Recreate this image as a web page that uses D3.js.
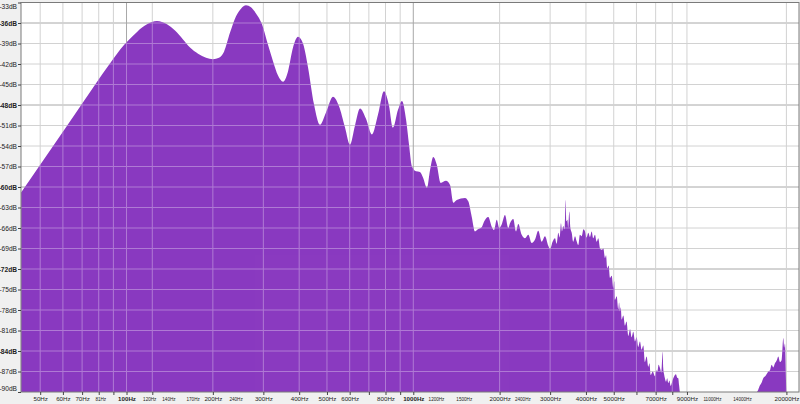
<!DOCTYPE html>
<html><head><meta charset="utf-8">
<script src="https://cdn.jsdelivr.net/npm/d3@7"></script>
<style>
html,body{margin:0;padding:0;background:#f0f0f0;}
svg{display:block;}
text{font-family:"Liberation Sans",Arial,sans-serif;}
</style></head><body>
<svg id="chart" width="800" height="404"></svg>
<script>
// ---- data: frequency (Hz) and level (dB) ----
const freqs = [42.9,63.5,89.7,94.9,101.2,108.8,117.9,127.7,138.4,147.6,157.4,166.5,177.6,189.4,200.2,210.1,218.8,229.6,240.9,250.7,
261.0,271.7,282.8,296.8,311.4,324.2,337.5,351.4,365.7,380.7,396.3,412.5,429.5,450.6,472.8,496.2,524.8,550.7,578.0,601.6,
626.3,652.0,684.1,717.8,753.3,790.3,822.8,849.6,884.5,913.3,943.2,966.3,989.7,1022,1055,1081,1116,1144,1174,1207,
1246,1300,1343,1379,1417,1515,1555,1598,1641,1681,1732,1764,1793,1826,1877,1912,1954,1995,2033,2088,
2144,2174,2232,2281,2323,2388,2452,2518,2587,2657,2728,2804,2879,2956,2997,3060,3120,3160,3204,3240,
3273,3300,3334,3370,3400,3420,3444,3470,3500,3530,3568,3610,3664,3710,3762,3810,3867,3920,3970,4020,
4076,4130,4188,4240,4300,4360,4416,4480,4538,4600,4661,4700,4747,4800,4852,4920,4982,5020,5050,5120,
5185,5220,5256,5290,5328,5400,5472,5540,5619,5700,5774,5850,5929,6010,6088,6170,6257,6340,6425,6510,
6598,6660,6727,6840,6963,7030,7093,7170,7248,7330,7407,7440,7484,7540,7605,7680,7746,7820,7898,7980,
8065,8150,8240,8320,8395,8450,8510,15760,16180,16400,16610,16950,17290,17530,17770,18000,18250,18500,18740,19000,
19250,19510,19640,19770,20010,22130];
const levels = [-60.8,-50.4,-41.3,-39.9,-38.6,-37.3,-36.2,-35.7,-36.2,-37.1,-38.4,-39.6,-40.5,-41.1,-41.3,-41.1,-40.2,-37.4,-35.0,-33.9,
-33.4,-33.7,-34.6,-36.2,-39.2,-41.6,-43.7,-44.6,-43.1,-39.6,-38.0,-39.0,-42.5,-47.9,-50.9,-49.1,-46.8,-48.2,-51.3,-53.8,
-51.0,-48.5,-50.0,-52.3,-49.4,-46.0,-48.1,-51.3,-48.7,-47.4,-50.1,-53.8,-57.0,-57.7,-57.8,-58.6,-60.1,-57.5,-55.6,-56.7,
-59.4,-59.1,-59.7,-62.3,-61.9,-61.6,-62.1,-64.3,-66.5,-66.2,-65.9,-65.1,-64.6,-64.4,-65.8,-66.3,-64.8,-66.0,-65.5,-64.1,
-66.0,-65.3,-64.7,-66.5,-65.4,-67.0,-67.5,-67.0,-68.2,-67.7,-66.4,-68.0,-67.2,-68.6,-69.1,-68.0,-67.5,-68.3,-66.7,-67.4,
-65.3,-66.5,-65.7,-66.2,-61.9,-65.0,-64.8,-66.0,-63.6,-66.0,-66.7,-68.0,-67.2,-67.9,-68.5,-67.0,-67.2,-66.2,-66.5,-67.4,
-66.7,-67.3,-66.5,-67.5,-67.0,-68.0,-67.5,-69.0,-69.2,-69.0,-70.4,-70.0,-71.9,-71.5,-73.3,-73.0,-74.8,-73.8,-76.5,-76.0,
-77.9,-76.9,-78.2,-77.6,-79.4,-78.8,-80.3,-79.7,-81.8,-80.8,-82.0,-81.2,-82.6,-82.0,-83.4,-82.6,-83.8,-83.2,-85.6,-84.8,
-86.3,-85.8,-87.5,-87.0,-87.7,-86.8,-87.0,-86.0,-86.5,-87.2,-84.1,-86.5,-87.3,-88.0,-88.5,-88.0,-88.7,-88.3,-89.1,-88.6,
-88.0,-87.6,-87.4,-87.9,-88.0,-89.0,-90,-90,-89.0,-88.6,-88.0,-87.6,-87.0,-86.8,-86.0,-86.4,-85.8,-85.4,-84.8,-85.6,
-85.3,-82.1,-83.5,-82.9,-90,-90];

// ---- axis ticks ----
const dbTicks = [-33,-36,-39,-42,-45,-48,-51,-54,-57,-60,-63,-66,-69,-72,-75,-78,-81,-84,-87,-90];
const dbMajor = [-36,-48,-60,-72,-84];
const freqLabelValues = [50,60,70,81,100,120,140,170,200,240,300,400,500,600,800,1000,1200,1500,2000,2400,3000,4000,5000,7000,9000,11000,14000,20000];
const freqLabelText = ["50Hz","60Hz","70Hz","81Hz","100Hz","120Hz","140Hz","170Hz","200Hz","240Hz","300Hz","400Hz","500Hz","600Hz","800Hz","1000Hz","1200Hz","1500Hz","2000Hz","2400Hz","3000Hz","4000Hz","5000Hz","7000Hz","9000Hz","11000Hz","14000Hz","20000Hz"];
const freqLabelSmall = [81,120,140,170,240,1200,1500,2400,11000,14000];
const freqLabelBold = [100,1000];
const gridFreqs = [50,60,70,80,90,100,123,200,300,400,500,600,700,800,900,1000,2000,3000,4000,5000,6000,7000,8000,9000,20000];
const gridMajorFreqs = [100,1000];

const svg = d3.select("#chart");
const L = 21, R = 799, T = 2.5, B = 392;
const x = d3.scaleLog().domain([42.86, 22130]).range([L, R]);
const y = d3.scaleLinear().domain([-90, -33]).range([B, T]);

svg.append("rect").attr("x", L).attr("y", T).attr("width", R - L).attr("height", B - T).attr("fill", "#ffffff");

const defs = svg.append("defs");
defs.append("clipPath").attr("id", "plotclip")
  .append("rect").attr("x", L).attr("y", T).attr("width", R - L).attr("height", B - T);

const data = freqs.map((f, i) => ({f, db: levels[i]}));
const area = d3.area().x(d => x(d.f)).y0(B).y1(d => y(d.db)).curve(d3.curveMonotoneX);

function drawGrid(g, colMinor, colMajor) {
  g.selectAll("line.h").data(dbTicks.filter(d => d > -90 && d < -33)).join("line")
    .attr("x1", L).attr("x2", R).attr("y1", d => y(d)).attr("y2", d => y(d))
    .attr("stroke", d => dbMajor.includes(d) ? colMajor : colMinor).attr("stroke-width", 1);
  g.selectAll("line.v").data(gridFreqs).join("line")
    .attr("y1", T).attr("y2", B).attr("x1", d => x(d)).attr("x2", d => x(d))
    .attr("stroke", d => gridMajorFreqs.includes(d) ? colMajor : colMinor).attr("stroke-width", 1);
}
drawGrid(svg.append("g"), "#d2d2d2", "#a8a8a8");

const gArea = svg.append("g").attr("clip-path", "url(#plotclip)");
gArea.append("path").datum(data).attr("d", area).attr("fill", "#8a3ac0");

defs.append("clipPath").attr("id", "areaclip").append("path").datum(data).attr("d", area);
drawGrid(svg.append("g").attr("clip-path", "url(#areaclip)").attr("opacity", 0.32), "#ffffff", "#ffffff");

svg.append("rect").attr("x", L).attr("y", T).attr("width", R - L).attr("height", B - T)
  .attr("fill", "none").attr("stroke", "#7a7a7a").attr("stroke-width", 1);

// y axis
const yAxis = d3.axisLeft(y).tickValues(dbTicks).tickSize(3).tickPadding(1).tickFormat(d => d + "dB");
const gy = svg.append("g").attr("transform", `translate(${L},0)`).call(yAxis);
gy.select(".domain").remove();
gy.selectAll(".tick line").attr("stroke", "#444");
gy.selectAll(".tick text")
  .attr("font-size", "6.6px").attr("fill", "#222")
  .attr("font-weight", d => dbMajor.includes(d) ? "bold" : "normal")
  .attr("font-family", '"Liberation Sans",Arial,sans-serif')
  .attr("y", d => d === -33 ? 3.5 : (d === -90 ? -3.5 : 0));

// x axis
const xTicks = d3.axisBottom(x).tickValues(gridFreqs).tickSize(3).tickFormat("");
const gxt = svg.append("g").attr("transform", `translate(0,${B})`).call(xTicks);
gxt.select(".domain").remove();
gxt.selectAll(".tick line").attr("stroke", "#444");

const xAxis = d3.axisBottom(x).tickValues(freqLabelValues).tickSize(0).tickPadding(3)
  .tickFormat((d, i) => freqLabelText[i]);
const gx = svg.append("g").attr("transform", `translate(0,${B})`).call(xAxis);
gx.select(".domain").remove();
gx.selectAll(".tick text")
  .attr("font-family", '"Liberation Sans",Arial,sans-serif')
  .attr("fill", "#222")
  .attr("font-size", d => freqLabelSmall.includes(d) ? "4.6px" : "6.2px")
  .attr("font-weight", d => freqLabelBold.includes(d) ? "bold" : "normal")
  .attr("dy", "0").attr("y", 8.5);
</script>
</body></html>
